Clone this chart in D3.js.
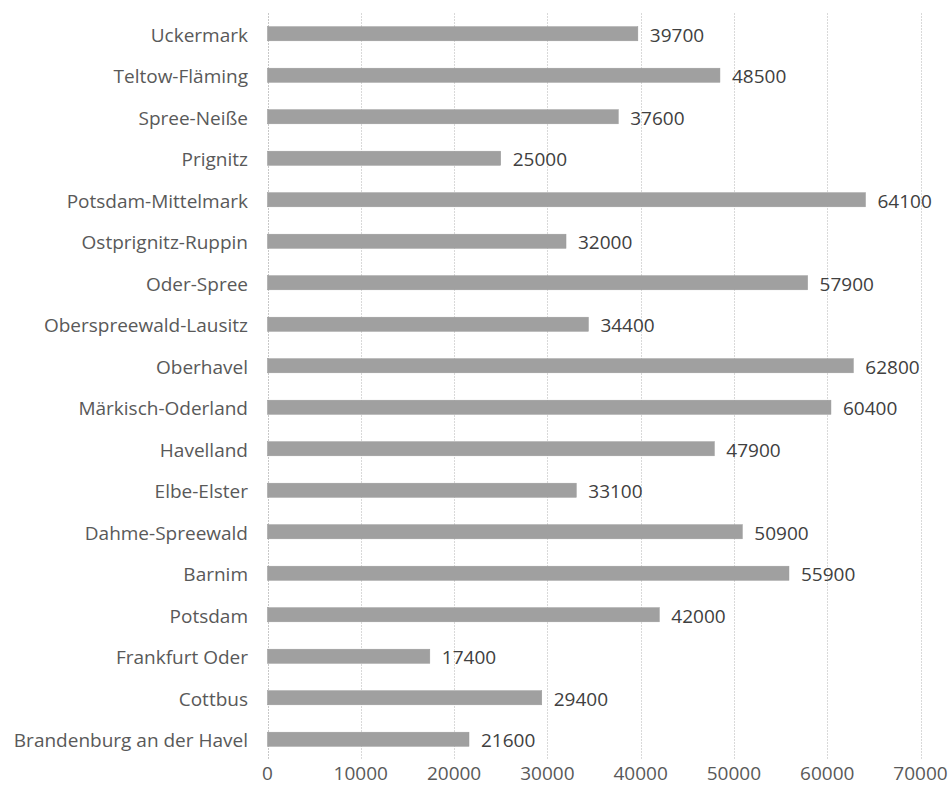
<!DOCTYPE html>
<html><head><meta charset="utf-8">
<script src="https://cdn.jsdelivr.net/npm/d3@7"></script>
<style>body{margin:0;background:#fff}svg{display:block}</style>
</head><body>
<svg id="c" width="950" height="798"></svg>
<script>
const categories = ["Uckermark","Teltow-Fläming","Spree-Neiße","Prignitz","Potsdam-Mittelmark","Ostprignitz-Ruppin","Oder-Spree","Oberspreewald-Lausitz","Oberhavel","Märkisch-Oderland","Havelland","Elbe-Elster","Dahme-Spreewald","Barnim","Potsdam","Frankfurt Oder","Cottbus","Brandenburg an der Havel"];
const values = [39700,48500,37600,25000,64100,32000,57900,34400,62800,60400,47900,33100,50900,55900,42000,17400,29400,21600];
const xTicks = [0,10000,20000,30000,40000,50000,60000,70000];

(function(){
const svg = d3.select("#c");
const font = "'Open Sans', 'Liberation Sans', sans-serif";
const fs = 19;
const mLeft = 267.5, mRight = 920.5, mTop = 13, mBottom = 760;
const x = d3.scaleLinear().domain([0,70000]).range([mLeft,mRight]);
const y = d3.scaleBand().domain(categories).range([mTop,mBottom]).paddingInner(0.66).paddingOuter(0.33);

// gridlines
svg.append("g").selectAll("line").data(xTicks).join("line")
  .attr("x1",d=>Math.round(x(d))+0.5).attr("x2",d=>Math.round(x(d))+0.5)
  .attr("y1",mTop).attr("y2",mBottom)
  .attr("stroke",d=>d===0?"#c8c8c8":"#d9d9d9").attr("stroke-dasharray","2,1").attr("stroke-width",1);

// bars
svg.append("g").selectAll("rect").data(values).join("rect")
  .attr("x",x(0)).attr("y",(d,i)=>y(categories[i]))
  .attr("width",d=>x(d)-x(0)).attr("height",y.bandwidth())
  .attr("fill","#a0a0a0").attr("stroke","#999").attr("stroke-width",0.5);

// value labels
svg.append("g").selectAll("text").data(values).join("text")
  .attr("x",d=>x(d)+12).attr("y",(d,i)=>y(categories[i])+y.bandwidth()/2+1)
  .attr("dy","0.36em").attr("font-family",font).attr("font-size",fs).attr("fill","#404040")
  .text(d=>d);

// category labels
svg.append("g").selectAll("text").data(categories).join("text")
  .attr("x",248).attr("y",d=>y(d)+y.bandwidth()/2+1).attr("dy","0.36em")
  .attr("text-anchor","end").attr("font-family",font).attr("font-size",fs).attr("fill","#595959")
  .text(d=>d);

// x tick labels
svg.append("g").selectAll("text").data(xTicks).join("text")
  .attr("x",d=>x(d)).attr("y",773).attr("dy","0.36em")
  .attr("text-anchor","middle").attr("font-family",font).attr("font-size",fs).attr("fill","#595959")
  .text(d=>d);
})();
</script>
</body></html>
